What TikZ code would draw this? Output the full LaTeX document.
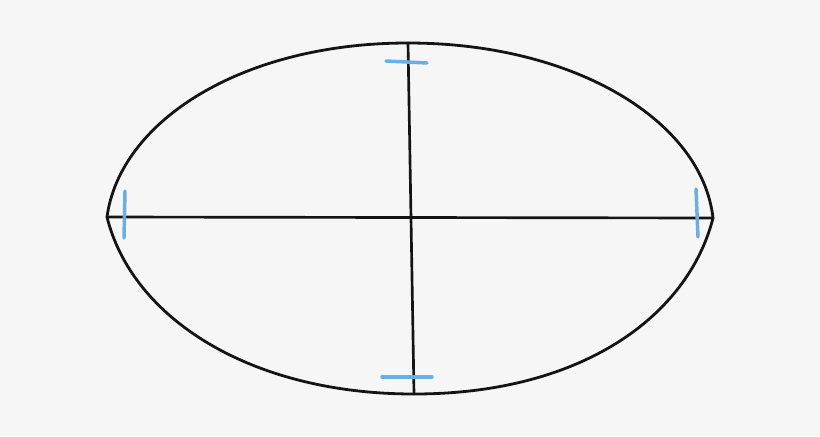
\documentclass[tikz,border=0pt]{standalone}
\definecolor{tickblue}{HTML}{6AAEE6}
\definecolor{bg}{HTML}{F6F6F6}
\tikzset{
  outline/.style={line width=2.1pt, black!92, line cap=round, line join=round},
  axis/.style={line width=2.0pt, black!92, line cap=round},
  tickmark/.style={line width=2.6pt, tickblue, line cap=round}
}
\begin{document}
\begin{tikzpicture}[x=0.75pt,y=-0.75pt]
\fill[bg] (0,0) rectangle (820,436);
\useasboundingbox (0,0) rectangle (820,436);
\coordinate (L) at (107,217);
\coordinate (R) at (713,218);
\coordinate (T) at (408,43);
\coordinate (B) at (414,394);
% ellipse outline
\draw[outline] (L) .. controls (120,121) and (242,43) .. (T)
  .. controls (575,43) and (702,121) .. (R)
  .. controls (688,316) and (582,394) .. (B)
  .. controls (250,394) and (132,318) .. (L);
% axes
\draw[axis] (L) -- (R);
\draw[axis] (T) -- (B);
% blue ticks
\coordinate (t1a) at (386,61); \coordinate (t1b) at (427,63);
\coordinate (t2a) at (382,377); \coordinate (t2b) at (432,377);
\coordinate (t3a) at (125,191); \coordinate (t3b) at (124,238);
\coordinate (t4a) at (696,189); \coordinate (t4b) at (698,237);
\draw[tickmark] (t1a) -- (t1b);
\draw[tickmark] (t2a) -- (t2b);
\draw[tickmark] (t3a) -- (t3b);
\draw[tickmark] (t4a) -- (t4b);
\end{tikzpicture}
\end{document}
